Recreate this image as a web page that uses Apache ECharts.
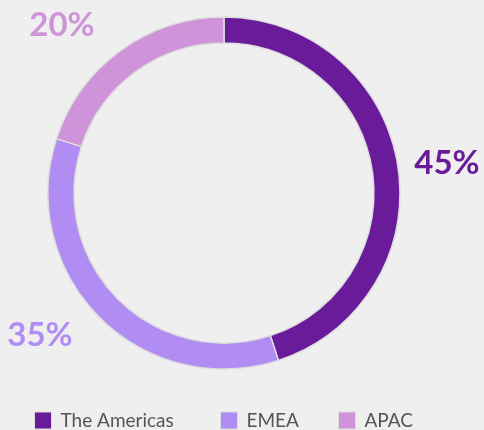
<!DOCTYPE html>
<html><head><meta charset="utf-8">
<script src="https://cdn.jsdelivr.net/npm/echarts@6/dist/echarts.min.js"></script>
<style>html,body{margin:0;padding:0;background:#efefef}#c{width:484px;height:430px}</style>
</head><body><div id="c"></div>
<script>
const categories = ['The Americas', 'EMEA', 'APAC'];
const values = [45, 35, 20];
const colors = ['#6a1b9a', '#b18cf2', '#ce93d8'];
const labelPos = [[447, 163], [40, 335], [62, 25]];
const legendLeft = [34, 220, 338];

const chart = echarts.init(document.getElementById('c'), null, {renderer: 'canvas'});
chart.setOption({
  backgroundColor: '#efefef',
  animation: false,
  legend: categories.map((c, i) => ({
    top: 411, left: legendLeft[i],
    itemWidth: 17, itemHeight: 17, itemGap: 0,
    padding: 0,
    icon: 'rect',
    itemStyle: { borderColor: '#dcdcdc', borderWidth: 1 },
    textStyle: { color: '#555', fontSize: 19, fontFamily: 'Lato', padding: [0, 0, 0, 4] },
    data: [c]
  })),
  series: [{
    type: 'pie',
    center: [224, 193],
    radius: [150, 176],
    startAngle: 90,
    clockwise: true,
    avoidLabelOverlap: false,
    itemStyle: { borderColor: '#dddddd', borderWidth: 1.5 },
    label: {
      show: true, position: 'outside',
      formatter: '{d}%',
      fontSize: 33, fontWeight: 'bold', fontFamily: 'Lato'
    },
    labelLine: { show: false },
    labelLayout: function (p) {
      const pos = labelPos[p.dataIndex];
      return { x: pos[0], y: pos[1], align: 'center', verticalAlign: 'middle' };
    },
    data: categories.map((c, i) => ({ name: c, value: values[i], itemStyle: { color: colors[i] }, label: { color: colors[i] } }))
  }]
});
</script></body></html>
